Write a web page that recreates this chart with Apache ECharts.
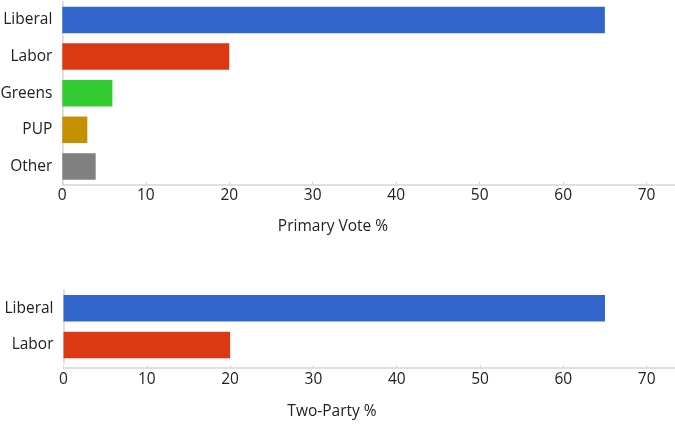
<!DOCTYPE html>
<html>
<head>
<meta charset="utf-8">
<style>html,body{margin:0;padding:0;background:#fff}#c{width:675px;height:436px}</style>
<script src="https://cdn.jsdelivr.net/npm/echarts@6/dist/echarts.min.js"></script>
</head>
<body>
<div id="c"></div>
<script>
var primaryCategories = ['Liberal', 'Labor', 'Greens', 'PUP', 'Other'];
var primaryValues = [65, 20, 6, 3, 4];
var primaryColors = ['#3366cc', '#dc3912', '#33cc33', '#c49000', '#808080'];
var twoPartyCategories = ['Liberal', 'Labor'];
var twoPartyValues = [65, 20];
var twoPartyColors = ['#3366cc', '#dc3912'];
var tickValues = [0, 10, 20, 30, 40, 50, 60, 70];
var primaryTitle = 'Primary Vote %';
var twoPartyTitle = 'Two-Party %';

var FONT = '"Open Sans", sans-serif';
var chart = echarts.init(document.getElementById('c'));

function xAx(gi, off) {
  return {
    type: 'value', gridIndex: gi, min: 0, max: 73.4, interval: 10, offset: off,
    axisLine: { show: true, lineStyle: { color: '#d6d6d6', width: 1.5 } },
    axisTick: { show: true, inside: true, length: 3, lineStyle: { color: '#d6d6d6' }, customValues: tickValues },
    axisLabel: { color: '#222', fontSize: 15.5, fontFamily: FONT, margin: 3, customValues: tickValues },
    splitLine: { show: false }
  };
}
function yAx(gi, cats) {
  return {
    type: 'category', gridIndex: gi, data: cats, inverse: true,
    axisLine: { show: true, lineStyle: { color: '#d6d6d6', width: 1.5 } },
    axisTick: { show: false },
    axisLabel: { color: '#222', fontSize: 15.5, fontFamily: FONT, margin: 10 }
  };
}
function ser(gi, vals, cols) {
  return {
    type: 'bar', xAxisIndex: gi, yAxisIndex: gi, barCategoryGap: '27.6%',
    data: vals.map(function (v, i) { return { value: v, itemStyle: { color: cols[i] } }; }),
    silent: true
  };
}

chart.setOption({
  animation: false,
  grid: [
    { left: 62.3, right: 0, top: 1.7, height: 183, containLabel: false, outerBoundsMode: 'none' },
    { left: 63.5, right: 0, top: 290, height: 73.2, containLabel: false, outerBoundsMode: 'none' }
  ],
  xAxis: [xAx(0, 0), xAx(1, 5)],
  yAxis: [yAx(0, primaryCategories), yAx(1, twoPartyCategories)],
  series: [ser(0, primaryValues, primaryColors), ser(1, twoPartyValues, twoPartyColors)],
  graphic: [
    { type: 'text', x: 333, y: 226.5, style: { text: primaryTitle, fill: '#222', font: '15.5px ' + FONT, textAlign: 'center', textVerticalAlign: 'middle' } },
    { type: 'text', x: 332, y: 411.5, style: { text: twoPartyTitle, fill: '#222', font: '15.5px ' + FONT, textAlign: 'center', textVerticalAlign: 'middle' } }
  ]
});
</script>
</body>
</html>
